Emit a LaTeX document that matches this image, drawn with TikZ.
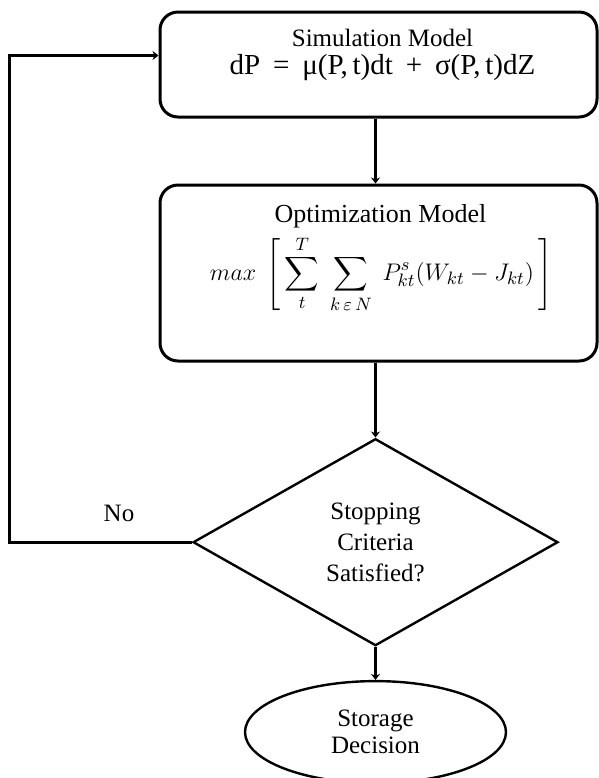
\documentclass[tikz,border=0pt]{standalone}
\usepackage{amsmath}
\usepackage{fontspec}
\setmainfont{Liberation Serif}
\usepackage{tikz}
\usetikzlibrary{shapes.geometric, positioning, calc, arrows.meta}
\tikzset{model/.style={
          draw,
          rectangle,
          rounded corners=9pt,
          line width=1.5pt,
          minimum width=218.5pt
     }}
\tikzset{decision/.style={ % requires library shapes.geometric
        draw,
        diamond,
        line width=1.2pt,
        minimum width=182.5pt,
        minimum height=103.5pt,
        align=center,
        font=\fontsize{12.5}{15.5}\selectfont
    }}
\tikzset{terminal/.style={ % requires library shapes.geometric
        draw,
        ellipse,
        line width=1.2pt,
        minimum width=130.5pt,
        minimum height=51pt,
        align=center,
        font=\fontsize{12.5}{13.5}\selectfont
    }}
\tikzset{caption/.style={
        align=center,
        font=\fontsize{12.5}{13}\selectfont
    }}
\tikzstyle{arrow} = [line width=1.6pt,-{Stealth[length=3pt,width=4.5pt]}]

\begin{document}
\begin{tikzpicture}
\useasboundingbox (0,0) rectangle (299.5pt,-389pt);
\node (sim) [model, minimum height=52.5pt] at (189.25pt,-32.25pt) {};
\node (simtext) [caption, below=6pt of sim.north, xshift=2pt]
  {Simulation Model\\[1pt] {\fontsize{14.5}{15}\selectfont dP\;\,=\;\,μ(P,\,t)dt\;\,+\;\,σ(P,\,t)dZ}};
\node (opt) [model, minimum height=88pt, below=32.5pt of sim] {};
\node (opttitle) [caption, font=\fontsize{13}{15}\selectfont, below=7pt of opt.north, xshift=1pt] {Optimization Model};
\node (optmath) [font=\fontsize{13}{15}\selectfont, inner sep=0pt, xshift=1.25pt, yshift=-0.5pt] at (opt.center)
  {$\displaystyle max\;\left[\,\sum_{t}^{T}\;\sum_{k\,\varepsilon\,N}\;P_{kt}^{s}(W_{kt}-J_{kt})\,\right]$};
\node (stop) [decision, below=37.5pt of opt, xshift=-1.5pt] {Stopping\\Criteria\\Satisfied?};
\node (store) [terminal, below=16.5pt of stop] {Storage\\Decision};

\draw [arrow] (sim.south -| stop.north) -- (opt.north -| stop.north);
\draw [arrow] (opt.south -| stop.north) -- (stop.north);
\draw [arrow] (stop.south) -- (store.north);
\draw [arrow] (stop.west) -- ++(-91pt,0) node[anchor=south,pos=0.4,yshift=6pt,font=\fontsize{12.5}{15}\selectfont] {No} |- ([yshift=4.5pt]sim.west);
\end{tikzpicture}
\end{document}
